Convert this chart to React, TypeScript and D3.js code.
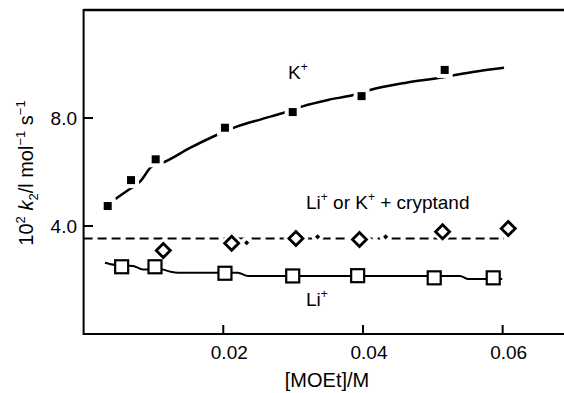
import * as d3 from "d3";

// K+ (filled squares)
const kX = [0.00345, 0.00679, 0.01032, 0.02024, 0.02994, 0.0398, 0.0517];
const kY = [4.74, 5.7, 6.47, 7.64, 8.22, 8.81, 9.78];
// K+ fitted curve
const kCurveX = [0.0045, 0.0064, 0.00807, 0.00975, 0.01165, 0.01523, 0.01905, 0.02192, 0.0255, 0.02908, 0.03145, 0.035, 0.0386, 0.041, 0.046, 0.0515, 0.0532, 0.0567, 0.0602];
const kCurveY = [4.99, 5.33, 5.64, 6.2, 6.38, 6.89, 7.37, 7.68, 7.96, 8.23, 8.44, 8.67, 8.85, 9.04, 9.3, 9.51, 9.59, 9.74, 9.86];

// Li+ or K+ + cryptand (open diamonds, small dots)
const cryX = [0.01141, 0.0212, 0.0304, 0.0395, 0.0514, 0.0608];
const cryY = [3.09, 3.36, 3.54, 3.5, 3.79, 3.91];
const dotX = [0.02335, 0.0335, 0.04325];
const dotY = [3.38, 3.6, 3.6];
const cryLineX = [0, 0.0602];
const cryLineY = [3.54, 3.54];

// Li+ (open squares)
const liX = [0.00545, 0.01022, 0.02024, 0.02994, 0.03924, 0.0502, 0.05865];
const liY = [2.49, 2.49, 2.25, 2.15, 2.16, 2.08, 2.08];
const liLineX = [0.00306, 0.0045, 0.00707, 0.0085, 0.01094, 0.01237, 0.0135, 0.0221, 0.02354, 0.0539, 0.055, 0.05994];
const liLineY = [2.64, 2.56, 2.52, 2.39, 2.41, 2.31, 2.27, 2.27, 2.15, 2.15, 2.04, 2.04];

const xTicks = [0.02, 0.04, 0.06];
const xTickLabels = ["0.02", "0.04", "0.06"];
const yTicks = [4, 8];
const yTickLabels = ["4.0", "8.0"];

const W = 564;
const H = 393;
const FONT = "'Liberation Sans', Arial, sans-serif";

export default function App() {
  const x = d3.scaleLinear().domain([0, 0.07]).range([83.6, 572.5]);
  const y = d3.scaleLinear().domain([0, 12]).range([334, 10]);

  const zip = (xs: number[], ys: number[]) => xs.map((v, i) => [v, ys[i]] as [number, number]);
  const kPath = d3
    .line<[number, number]>()
    .x((d) => x(d[0]))
    .y((d) => y(d[1]))
    .curve(d3.curveMonotoneX)(zip(kCurveX, kCurveY)) || "";
  const liPath = d3
    .line<[number, number]>()
    .x((d) => x(d[0]))
    .y((d) => y(d[1]))
    .curve(d3.curveMonotoneX)(zip(liLineX, liLineY)) || "";
  const cryPath = d3
    .line<[number, number]>()
    .x((d) => x(d[0]))
    .y((d) => y(d[1]))(zip(cryLineX, cryLineY)) || "";

  const diamond = (cx: number, cy: number, r: number) =>
    `M${cx},${cy - r}L${cx + r},${cy}L${cx},${cy + r}L${cx - r},${cy}Z`;

  return (
    <svg
      width={W}
      height={H}
      style={{ position: "absolute", left: 0, top: 0, background: "#fff" }}
      fontFamily={FONT}
    >
      {/* frame */}
      <line x1={83.6} x2={W} y1={10} y2={10} stroke="#000" strokeWidth={2.5} />
      <line x1={83.6} x2={83.6} y1={9} y2={335} stroke="#000" strokeWidth={2} />
      <line x1={83} x2={W} y1={334} y2={334} stroke="#000" strokeWidth={2} />

      {xTicks.map((t, i) => (
        <g key={"xt" + i}>
          <line x1={x(t)} x2={x(t)} y1={334} y2={325} stroke="#000" strokeWidth={2} />
          <text x={x(t) + 6} y={359} fontSize={19} textAnchor="middle">
            {xTickLabels[i]}
          </text>
        </g>
      ))}
      {yTicks.map((t, i) => (
        <g key={"yt" + i}>
          <line x1={83.6} x2={93} y1={y(t)} y2={y(t)} stroke="#000" strokeWidth={2} />
          <text x={77} y={y(t) + 7} fontSize={19} textAnchor="end">
            {yTickLabels[i]}
          </text>
        </g>
      ))}

      {/* axis titles */}
      <text x={327} y={387} fontSize={20} textAnchor="middle">
        [MOEt]/M
      </text>
      <text transform="translate(33,173) rotate(-90)" fontSize={20} textAnchor="middle">
        <tspan>10</tspan>
        <tspan fontSize={13} dy={-8}>2</tspan>
        <tspan dy={8}> </tspan>
        <tspan fontStyle="italic">k</tspan>
        <tspan fontSize={13} dy={5}>2</tspan>
        <tspan dy={-5}>/l mol</tspan>
        <tspan fontSize={13} dy={-8}>−1</tspan>
        <tspan dy={8}> s</tspan>
        <tspan fontSize={13} dy={-8}>−1</tspan>
      </text>

      {/* cryptand dashed level */}
      <path d={cryPath} fill="none" stroke="#000" strokeWidth={2} strokeDasharray="9,5" />

      {/* Li+ line */}
      <path d={liPath} fill="none" stroke="#000" strokeWidth={2} />

      {/* K+ curve */}
      <path d={kPath} fill="none" stroke="#000" strokeWidth={2.5} />

      {/* K+ markers with white gaps */}
      {kX.map((v, i) => (
        <g key={"k" + i}>
          <rect x={x(v) - 8} y={y(kY[i]) - 8} width={16} height={16} fill="#fff" />
          <rect x={x(v) - 4} y={y(kY[i]) - 4} width={8} height={8} fill="#000" />
        </g>
      ))}

      {/* cryptand diamonds */}
      {cryX.map((v, i) => (
        <g key={"c" + i}>
          <path d={diamond(x(v), y(cryY[i]), 7)} fill="#fff" stroke="#fff" strokeWidth={8} />
          <path d={diamond(x(v), y(cryY[i]), 7)} fill="#fff" stroke="#000" strokeWidth={2.8} />
        </g>
      ))}
      {dotX.map((v, i) => (
        <g key={"d" + i}>
          <circle cx={x(v)} cy={y(dotY[i])} r={6} fill="#fff" />
          <path d={diamond(x(v), y(dotY[i]), 2.6)} fill="#000" />
        </g>
      ))}

      {/* Li+ squares */}
      {liX.map((v, i) => (
        <rect
          key={"l" + i}
          x={x(v) - 6.5}
          y={y(liY[i]) - 6.5}
          width={13}
          height={13}
          fill="#fff"
          stroke="#000"
          strokeWidth={2.2}
        />
      ))}

      {/* series labels */}
      <text x={288} y={79} fontSize={19}>
        K<tspan fontSize={12} dy={-8}>+</tspan>
      </text>
      <text x={306} y={209} fontSize={19}>
        Li<tspan fontSize={12} dy={-8}>+</tspan>
        <tspan dy={8}> or K</tspan>
        <tspan fontSize={12} dy={-8}>+</tspan>
        <tspan dy={8}> + cryptand</tspan>
      </text>
      <text x={306} y={306} fontSize={19}>
        Li<tspan fontSize={12} dy={-8}>+</tspan>
      </text>
    </svg>
  );
}
